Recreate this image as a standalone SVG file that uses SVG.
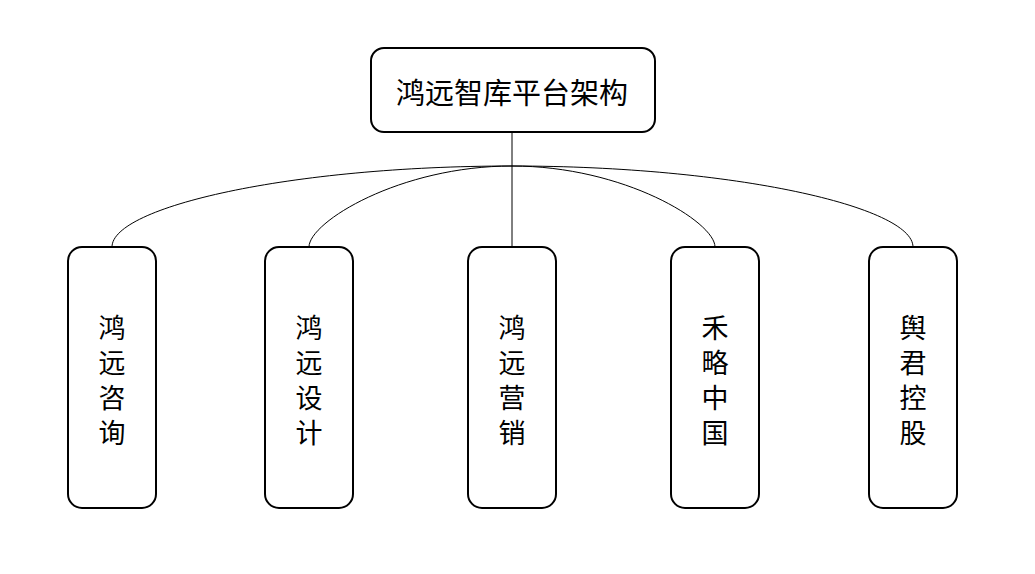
<svg xmlns="http://www.w3.org/2000/svg" width="1035" height="574" viewBox="0 0 1035 574">
<style>
.box{fill:#fff;stroke:#000;stroke-width:2}
.t{font-family:"Noto Sans CJK SC","Noto Sans",sans-serif;font-size:27px;fill:#000;text-anchor:middle;dominant-baseline:central}
.big{font-size:29px}
.c{fill:none;stroke:#000;stroke-width:1}
</style>
<rect width="1035" height="574" fill="#fff"/>
<g id="connectors">
<line class="c" x1="512" y1="132" x2="512" y2="247"/>
<path class="c" d="M112,247 C112,207 290,166 512,166"/>
<path class="c" d="M309,247 C309,222 400,166 512,166"/>
<path class="c" d="M715,247 C715,222 624,166 512,166"/>
<path class="c" d="M913,247 C913,207 734,166 512,166"/>
</g>
<g id="root">
<rect class="box" x="371" y="48" width="284" height="84" rx="13"/>
<text class="t big" x="512" y="91">鸿远智库平台架构</text>
</g>
<g id="n1">
<rect class="box" x="68" y="247" width="88" height="261" rx="14"/>
<text class="t" x="112"><tspan x="112" y="326">鸿</tspan><tspan x="112" y="361">远</tspan><tspan x="112" y="396">咨</tspan><tspan x="112" y="431">询</tspan></text>
</g>
<g id="n2">
<rect class="box" x="265" y="247" width="88" height="261" rx="14"/>
<text class="t" x="309"><tspan x="309" y="326">鸿</tspan><tspan x="309" y="361">远</tspan><tspan x="309" y="396">设</tspan><tspan x="309" y="431">计</tspan></text>
</g>
<g id="n3">
<rect class="box" x="468" y="247" width="88" height="261" rx="14"/>
<text class="t" x="512"><tspan x="512" y="326">鸿</tspan><tspan x="512" y="361">远</tspan><tspan x="512" y="396">营</tspan><tspan x="512" y="431">销</tspan></text>
</g>
<g id="n4">
<rect class="box" x="671" y="247" width="88" height="261" rx="14"/>
<text class="t" x="715"><tspan x="715" y="326">禾</tspan><tspan x="715" y="361">略</tspan><tspan x="715" y="396">中</tspan><tspan x="715" y="431">国</tspan></text>
</g>
<g id="n5">
<rect class="box" x="869" y="247" width="88" height="261" rx="14"/>
<text class="t" x="913"><tspan x="913" y="326">舆</tspan><tspan x="913" y="361">君</tspan><tspan x="913" y="396">控</tspan><tspan x="913" y="431">股</tspan></text>
</g>
</svg>
